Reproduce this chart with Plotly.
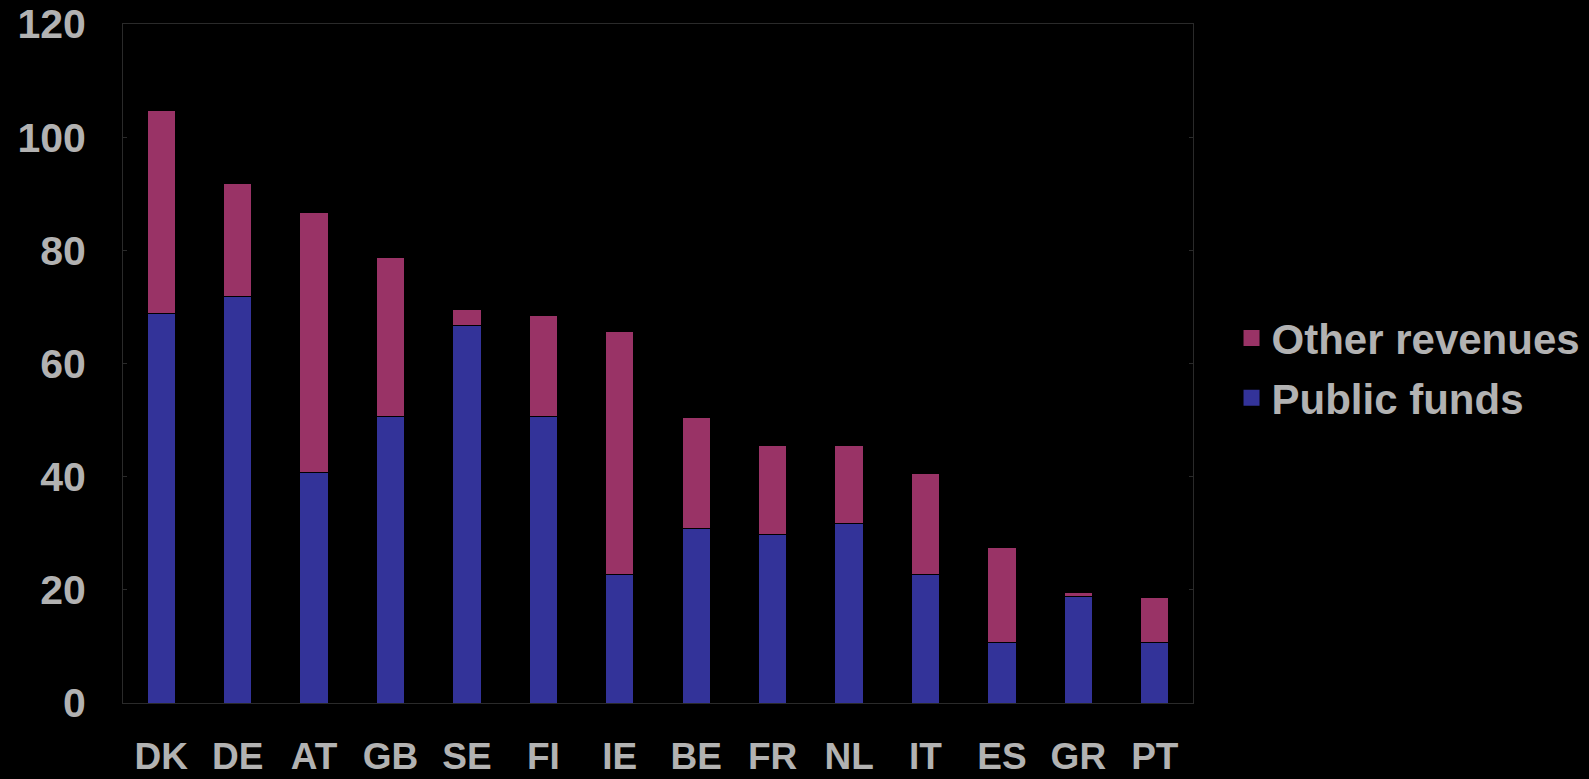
import plotly.graph_objects as go

COUNTRIES = ['DK', 'DE', 'AT', 'GB', 'SE', 'FI', 'IE', 'BE', 'FR', 'NL', 'IT', 'ES', 'GR', 'PT']
PUBLIC_FUNDS = [68.8, 71.9, 40.8, 50.7, 66.8, 50.7, 22.7, 30.8, 29.8, 31.8, 22.7, 10.7, 18.8, 10.7]
OTHER_REVENUES = [36.0, 20.0, 45.8, 28.0, 2.7, 17.8, 43.0, 19.7, 15.7, 13.7, 17.8, 16.7, 0.8, 7.9]

TEXT_GREY = '#b2b2b2'
FONT = 'Liberation Sans, Arial, sans-serif'
BLUE = '#333399'
PLUM = '#993366'

# page body has a white 8px margin by default, make it black and flush
PAGE_JS = "document.body.style.margin='0';document.body.style.background='#000';"


def build() -> go.Figure:
    fig = go.Figure()
    fig.add_trace(go.Bar(x=COUNTRIES, y=PUBLIC_FUNDS, name='Public funds',
                         legendgroup='pf', showlegend=False,
                         marker=dict(color=BLUE, line=dict(color='#000000', width=1))))
    fig.add_trace(go.Bar(x=COUNTRIES, y=OTHER_REVENUES, name='Other revenues',
                         legendgroup='or', showlegend=False,
                         marker=dict(color=PLUM, line=dict(color='#000000', width=1))))
    # legend entries with bigger square swatches, top one first
    for name, color, group in [('Other revenues', PLUM, 'or'), ('Public funds', BLUE, 'pf')]:
        fig.add_trace(go.Scatter(x=[None], y=[None], mode='markers', name=name,
                                 legendgroup=group,
                                 marker=dict(symbol='square', size=16, color=color)))

    fig.update_layout(
        width=1589, height=779,
        barmode='stack', bargap=0.63,
        paper_bgcolor='#000000', plot_bgcolor='#000000',
        margin=dict(l=123, r=396, t=24, b=76, autoexpand=False),
        font=dict(family=FONT, color=TEXT_GREY, weight='bold'),
        legend=dict(x=1.036, y=0.493, xanchor='left', yanchor='middle',
                    traceorder='grouped', tracegroupgap=2,
                    itemsizing='trace',
                    font=dict(size=42, color=TEXT_GREY, family=FONT, weight='bold'),
                    bgcolor='rgba(0,0,0,0)', itemwidth=30),
        showlegend=True,
    )
    fig.update_xaxes(showgrid=False, showline=True, linecolor='#2a2a2a', linewidth=1,
                     mirror=True, ticks='', automargin=False,
                     tickfont=dict(size=37, color=TEXT_GREY), ticklabelstandoff=21)
    fig.update_yaxes(range=[0, 120], dtick=20, showgrid=False, zeroline=False,
                     showline=True, linecolor='#2a2a2a', linewidth=1, mirror='ticks',
                     ticks='inside', ticklen=4, tickcolor='#2a2a2a', automargin=False,
                     tickfont=dict(size=41, color=TEXT_GREY), ticklabelstandoff=28)
    return fig


fig = build()
fig.write_html("out.html", post_script=PAGE_JS, config={'displayModeBar': False})
